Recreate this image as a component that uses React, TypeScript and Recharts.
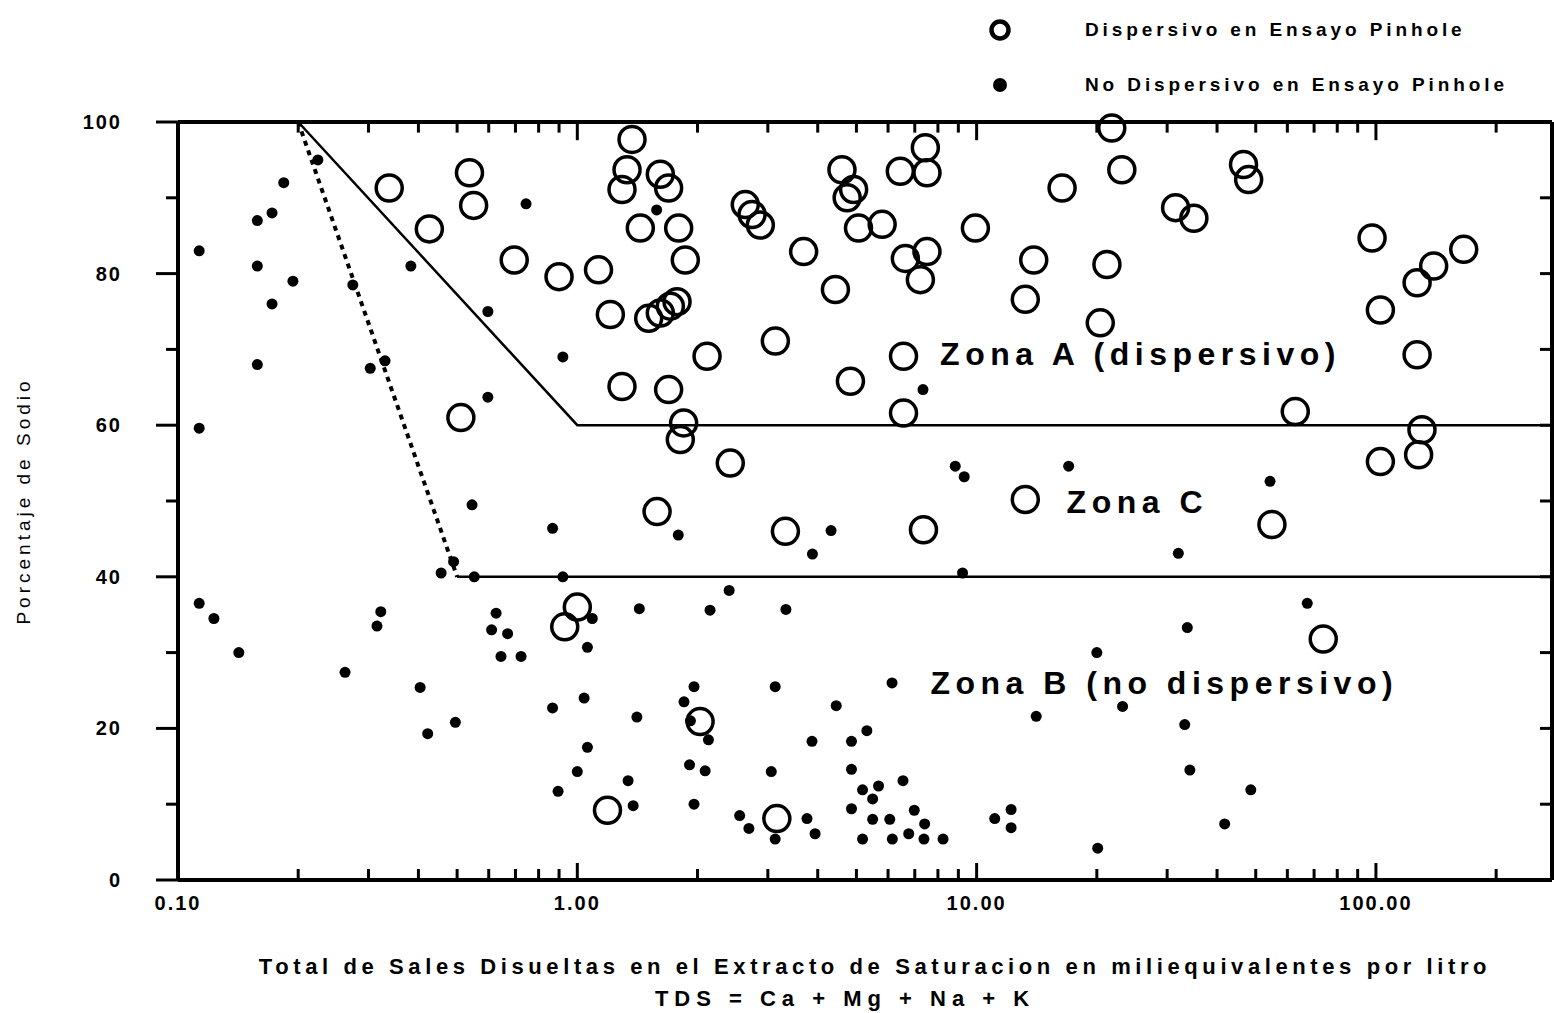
import { ComposedChart, Scatter, XAxis, YAxis, Legend, ReferenceDot, ReferenceLine } from "recharts";

// Dispersivo en ensayo Pinhole (círculos abiertos): [TDS meq/l, % Na]
const dispersivo: [number, number][] = [
  [0.338, 91.3], [0.537, 93.3], [0.55, 89], [0.426, 85.9], [0.695, 81.8], [0.9, 79.6], [1.13, 80.5], [1.21, 74.6], [0.511, 61],
  [1.371, 97.7], [1.332, 93.7], [1.294, 91.1], [1.614, 93.1], [1.693, 91.3], [1.438, 86], [1.794, 86], [1.864, 81.8],
  [1.509, 74.1], [1.614, 74.8], [1.71, 75.7], [1.777, 76.3], [1.294, 65.1], [1.693, 64.7], [2.113, 69.1], [3.133, 71.1],
  [3.688, 82.9], [2.634, 89.1], [2.739, 87.8], [2.873, 86.4], [4.43, 77.9], [4.6, 93.7], [4.92, 91.1], [4.74, 90],
  [5.06, 86], [5.8, 86.5], [6.44, 93.5], [7.44, 96.6], [7.51, 93.3], [7.51, 82.9], [6.63, 82], [7.23, 79.2], [9.93, 86],
  [13.9, 81.8], [13.24, 76.6], [6.56, 69.1], [4.83, 65.8], [6.56, 61.6], [1.846, 60.3], [1.811, 58.1], [2.416, 55],
  [1.584, 48.6], [3.32, 46], [7.36, 46.2], [13.24, 50.2], [16.37, 91.3],
  [21.8, 99.2], [23.1, 93.7], [46.6, 94.4], [48, 92.4], [31.5, 88.7], [35, 87.3], [21.2, 81.2], [20.4, 73.5],
  [97.8, 84.7], [165.9, 83.2], [139.5, 81], [126.8, 78.8], [102.6, 75.2], [126.8, 69.3], [62.8, 61.8], [130.4, 59.4],
  [127.9, 56.1], [102.6, 55.2], [54.9, 46.9],
  [1.0, 36], [0.93, 33.4], [2.03, 20.9], [1.19, 9.2], [3.16, 8.1], [73.8, 31.8],
];

// No dispersivo en ensayo Pinhole (puntos llenos)
const noDispersivo: [number, number][] = [
  [0.113, 83], [0.184, 92], [0.172, 88], [0.158, 87], [0.158, 81], [0.194, 79], [0.172, 76], [0.158, 68], [0.113, 59.6],
  [0.224, 95], [0.274, 78.5], [0.383, 81], [0.303, 67.5], [0.33, 68.5], [0.597, 75], [0.92, 69], [0.597, 63.7],
  [0.545, 49.5], [0.867, 46.4], [0.456, 40.5], [0.49, 42], [0.552, 40], [0.92, 40],
  [0.113, 36.5], [0.123, 34.5], [0.142, 30], [0.322, 35.4], [0.315, 33.5], [0.262, 27.4], [0.404, 25.4], [0.495, 20.8],
  [0.422, 19.3], [0.626, 35.2], [0.61, 33], [0.669, 32.5], [0.644, 29.5], [0.723, 29.5], [1.09, 34.5], [1.06, 30.7],
  [1.43, 35.8], [1.04, 24], [0.867, 22.7], [1.41, 21.5], [1.06, 17.5], [1.0, 14.3], [0.895, 11.7], [1.34, 13.1], [1.38, 9.8],
  [2.4, 38.2], [2.15, 35.6], [3.33, 35.7], [1.96, 25.5], [1.85, 23.5], [1.92, 21], [2.13, 18.5], [3.13, 25.5], [6.14, 26],
  [4.45, 23], [3.87, 18.3], [4.86, 18.3], [5.31, 19.7], [1.91, 15.2], [2.09, 14.4], [3.06, 14.3], [4.86, 14.6], [6.54, 13.1],
  [5.18, 11.9], [5.68, 12.4], [5.49, 10.7], [1.96, 10], [2.55, 8.5], [2.69, 6.8], [3.13, 5.4], [3.76, 8.1], [3.94, 6.1],
  [4.86, 9.4], [5.18, 5.4], [5.49, 8], [6.06, 8], [6.15, 5.4], [6.76, 6.1], [6.98, 9.2], [7.41, 7.4], [7.38, 5.4], [8.24, 5.4],
  [11.1, 8.1], [12.2, 9.3], [12.2, 6.9], [14.1, 21.6], [20, 30], [20.1, 4.2], [9.22, 40.5],
  [67.3, 36.5], [33.7, 33.3], [23.2, 22.9], [33.2, 20.5], [34.2, 14.5], [48.6, 11.9], [41.8, 7.4],
  [17.0, 54.6], [54.3, 52.6], [32, 43.1], [8.84, 54.6], [9.31, 53.2], [1.79, 45.5], [4.32, 46.1], [3.88, 43], [7.34, 64.7],
  [1.58, 88.4], [0.744, 89.2],
];

// Límites de zonas
const limiteA: [number, number][] = [[0.2, 100], [1, 60], [276, 60]];
const limitePunteado: [number, number][] = [[0.2, 100], [0.5, 40]];
const limiteB: [number, number][] = [[0.5, 40], [276, 40]];

const xMajor = [0.1, 1, 10, 100];
const xTicks = [
  0.1, 0.2, 0.3, 0.4, 0.5, 0.6, 0.7, 0.8, 0.9,
  1, 2, 3, 4, 5, 6, 7, 8, 9,
  10, 20, 30, 40, 50, 60, 70, 80, 90,
  100, 200,
];
const yTicks = [0, 10, 20, 30, 40, 50, 60, 70, 80, 90, 100];

const zonas = [
  { x: 8.1, y: 69, text: "Zona A (dispersivo)" },
  { x: 16.8, y: 49.5, text: "Zona C" },
  { x: 7.66, y: 25.7, text: "Zona B (no dispersivo)" },
];

const toPts = (arr: [number, number][]) => arr.map(([x, y]) => ({ x, y }));
// marcas del borde superior (hacia adentro)
const topTicks = xTicks.filter((v) => v > 0.1);

const FONT = "'Liberation Sans', Arial, sans-serif";
const AXIS = { stroke: "#000", strokeWidth: 4 };

const OpenCircle = (p: any) => (
  <circle cx={p.cx} cy={p.cy} r={13} fill="none" stroke="#000" strokeWidth={3.5} />
);
const FilledDot = (p: any) => <circle cx={p.cx} cy={p.cy} r={5.5} fill="#000" />;
const NoShape = () => <g />;

const BottomTick = ({ x, y, payload }: any) => {
  const major = xMajor.includes(payload.value);
  return (
    <g>
      <line x1={x} y1={y} x2={x} y2={y - (major ? 17 : 11)} stroke="#000" strokeWidth={3} />
      {major && (
        <text x={x} y={y + 30} textAnchor="middle" fontFamily={FONT} fontWeight="bold" fontSize={20} letterSpacing={2} fill="#000">
          {payload.value.toFixed(2)}
        </text>
      )}
    </g>
  );
};

const LeftTick = ({ x, y, payload }: any) => {
  const major = payload.value % 20 === 0;
  return (
    <g>
      <line x1={x} y1={y} x2={x - (major ? 22 : 12)} y2={y} stroke="#000" strokeWidth={3} />
      {major && (
        <text x={x - 56} y={y + 7} textAnchor="end" fontFamily={FONT} fontWeight="bold" fontSize={20} letterSpacing={2} fill="#000">
          {payload.value}
        </text>
      )}
    </g>
  );
};

const RightTick = ({ x, y }: any) => <line x1={x} y1={y} x2={x - 12} y2={y} stroke="#000" strokeWidth={3} />;

const XTitle = ({ viewBox }: any) => {
  const cx = viewBox.x + viewBox.width / 2;
  return (
    <g fontFamily={FONT} fontWeight="bold" fontSize={22} letterSpacing={4.6} fill="#000">
      <text x={cx + 10} y={viewBox.y + 94} textAnchor="middle">
        Total de Sales Disueltas en el Extracto de Saturacion en miliequivalentes por litro
      </text>
      <text x={cx - 20} y={viewBox.y + 126} textAnchor="middle" letterSpacing={6}>
        TDS = Ca + Mg + Na + K
      </text>
    </g>
  );
};

const YTitle = ({ viewBox }: any) => {
  const cx = viewBox.x - 93;
  const cy = viewBox.y + viewBox.height / 2;
  return (
    <text x={cx} y={cy} transform={`rotate(-90 ${cx} ${cy})`} textAnchor="middle" dominantBaseline="middle"
      fontFamily={FONT} fontSize={19} letterSpacing={4} fill="#000">
      Porcentaje de Sodio
    </text>
  );
};

const ZonaLabel = (text: string) => ({ viewBox }: any) => (
  <text x={viewBox.x} y={viewBox.y} dominantBaseline="middle" fontFamily={FONT} fontWeight="bold" fontSize={32}
    letterSpacing={5.5} fill="#000">
    {text}
  </text>
);

const LegendBox = () => (
  <div style={{ fontFamily: FONT, fontWeight: "bold", fontSize: 19, letterSpacing: 3.9, color: "#000" }}>
    {[
      { open: true, label: "Dispersivo en Ensayo Pinhole" },
      { open: false, label: "No Dispersivo en Ensayo Pinhole" },
    ].map((r) => (
      <div key={r.label} style={{ display: "flex", alignItems: "center", height: 55 }}>
        <svg width={30} height={30} style={{ marginRight: 70 }}>
          {r.open ? (
            <circle cx={15} cy={15} r={8.5} fill="none" stroke="#000" strokeWidth={4.5} />
          ) : (
            <circle cx={15} cy={15} r={7} fill="#000" />
          )}
        </svg>
        <span style={{ whiteSpace: "nowrap" }}>{r.label}</span>
      </div>
    ))}
  </div>
);

export default function App() {
  return (
    <div style={{ position: "absolute", left: 0, top: 0, width: 1554, height: 1013, background: "#fff" }}>
      <ComposedChart width={1554} height={1013} margin={{ top: 121, right: 1, left: 118, bottom: 93 }}>
        <XAxis
          xAxisId="b"
          dataKey="x"
          type="number"
          scale="log"
          domain={[0.1, 276]}
          allowDataOverflow
          ticks={xTicks}
          interval={0}
          height={40}
          tickSize={0}
          tickMargin={0}
          tickLine={false}
          axisLine={AXIS}
          tick={<BottomTick />}
          label={<XTitle />}
        />
        <XAxis
          xAxisId="t"
          orientation="top"
          dataKey="x"
          type="number"
          scale="log"
          domain={[0.1, 276]}
          allowDataOverflow
          height={1}
          tickLine={false}
          axisLine={AXIS}
          tick={false}
        />
        <YAxis
          yAxisId="l"
          dataKey="y"
          type="number"
          domain={[0, 100]}
          ticks={yTicks}
          interval={0}
          width={60}
          tickSize={0}
          tickMargin={0}
          tickLine={false}
          axisLine={AXIS}
          tick={<LeftTick />}
          label={<YTitle />}
        />
        <YAxis
          yAxisId="r"
          orientation="right"
          dataKey="y"
          type="number"
          domain={[0, 100]}
          ticks={yTicks}
          interval={0}
          width={1}
          tickSize={0}
          tickMargin={0}
          tickLine={false}
          axisLine={AXIS}
          tick={<RightTick />}
        />
        <Legend
          layout="vertical"
          align="center"
          verticalAlign="middle"
          wrapperStyle={{ position: "absolute", top: 2, left: 985, width: 565 }}
          content={() => <LegendBox />}
        />
        {/* serie invisible que liga los ejes superior y derecho */}
        <Scatter xAxisId="t" yAxisId="r" data={toPts(limiteB)} fill="none" shape={<NoShape />}
          legendType="none" isAnimationActive={false} />
        {topTicks.map((v) => (
          <ReferenceLine
            key={`tt-${v}`}
            xAxisId="b"
            yAxisId="l"
            ifOverflow="visible"
            segment={[{ x: v, y: 100 }, { x: v, y: xMajor.includes(v) ? 97.6 : 98.6 }]}
            stroke="#000"
            strokeWidth={3}
          />
        ))}
        <Scatter xAxisId="b" yAxisId="l" data={toPts(limiteA)} fill="#000" line={{ stroke: "#000", strokeWidth: 2.5 }}
          shape={<NoShape />} legendType="none" isAnimationActive={false} />
        <Scatter xAxisId="b" yAxisId="l" data={toPts(limiteB)} fill="#000" line={{ stroke: "#000", strokeWidth: 2.5 }}
          shape={<NoShape />} legendType="none" isAnimationActive={false} />
        <Scatter xAxisId="b" yAxisId="l" data={toPts(limitePunteado)} fill="#000"
          line={{ stroke: "#000", strokeWidth: 4, strokeDasharray: "5 5" }}
          shape={<NoShape />} legendType="none" isAnimationActive={false} />
        <Scatter xAxisId="b" yAxisId="l" name="Dispersivo en Ensayo Pinhole" data={toPts(dispersivo)}
          shape={<OpenCircle />} isAnimationActive={false} />
        <Scatter xAxisId="b" yAxisId="l" name="No Dispersivo en Ensayo Pinhole" data={toPts(noDispersivo)}
          shape={<FilledDot />} isAnimationActive={false} />
        {zonas.map((z) => (
          <ReferenceDot key={z.text} xAxisId="b" yAxisId="l" x={z.x} y={z.y} r={0} stroke="none" fill="none"
            label={ZonaLabel(z.text)} />
        ))}
      </ComposedChart>
    </div>
  );
}
